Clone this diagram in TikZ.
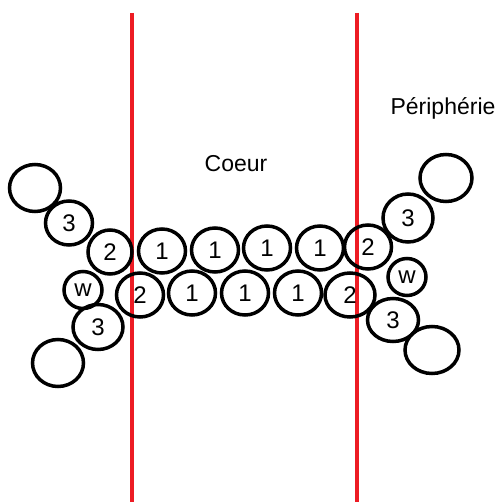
\documentclass[tikz,border=0pt]{standalone}
\usepackage{fontspec}
\setmainfont{Liberation Sans}
\usetikzlibrary{shapes.geometric}
\definecolor{rouge}{RGB}{237,28,36}
\begin{document}
\begin{tikzpicture}[x=1pt, y=-1pt,
    bille/.style={draw, line width=3.5pt, ellipse, inner sep=0pt,
        minimum width=47pt, minimum height=44pt, font=\fontsize{24}{24}\selectfont},
    petite/.style={bille, minimum width=38pt, minimum height=37pt},
    grande/.style={bille, minimum width=51pt, minimum height=47pt},
    titre/.style={font=\fontsize{23}{27}\selectfont, anchor=base}]
    \useasboundingbox (0,0) rectangle (500,502);

    % Limites du coeur
    \draw[rouge, line width=3.5pt] (132,13) -- (132,502);
    \draw[rouge, line width=3.5pt] (357,13) -- (357,502);

    % Rangee du haut
    \node[grande] (e1) at (35,188) {};
    \node[bille]  (t1) at (69,223) {3};
    \node[bille, minimum width=44pt] (h0) at (110,252) {2};
    \node[bille]  (h1) at (162,251) {1};
    \node[bille]  (h2) at (215,250) {1};
    \node[bille]  (h3) at (267,248) {1};
    \node[bille]  (h4) at (320,248) {1};
    \node[bille]  (h5) at (368,247) {2};
    \node[bille, minimum width=50pt, minimum height=48pt] (t2) at (408,218) {3};
    \node[grande, minimum width=52pt] (e2) at (446,178) {};

    % Rangee du bas
    \node[petite] (w1) at (83,290) {w};
    \node[bille]  (b0) at (140,295) {2};
    \node[bille]  (b1) at (192,293) {1};
    \node[bille]  (b2) at (245,293) {1};
    \node[bille]  (b3) at (298,293) {1};
    \node[bille, minimum width=50pt] (b4) at (350,295) {2};
    \node[petite] (w2) at (407,277) {w};

    % Bouts inferieurs
    \node[bille, minimum width=50pt, minimum height=45pt] (t3) at (98,327) {3};
    \node[grande] (e3) at (58,363) {};
    \node[bille, minimum width=51pt, minimum height=43pt] (t4) at (393,320) {3};
    \node[grande, minimum width=54pt] (e4) at (432,350) {};

    % Titres
    \node[titre] (coeur) at (236,172) {Coeur};
    \node[titre] (peri) at (443,115) {Périphérie};
\end{tikzpicture}
\end{document}
